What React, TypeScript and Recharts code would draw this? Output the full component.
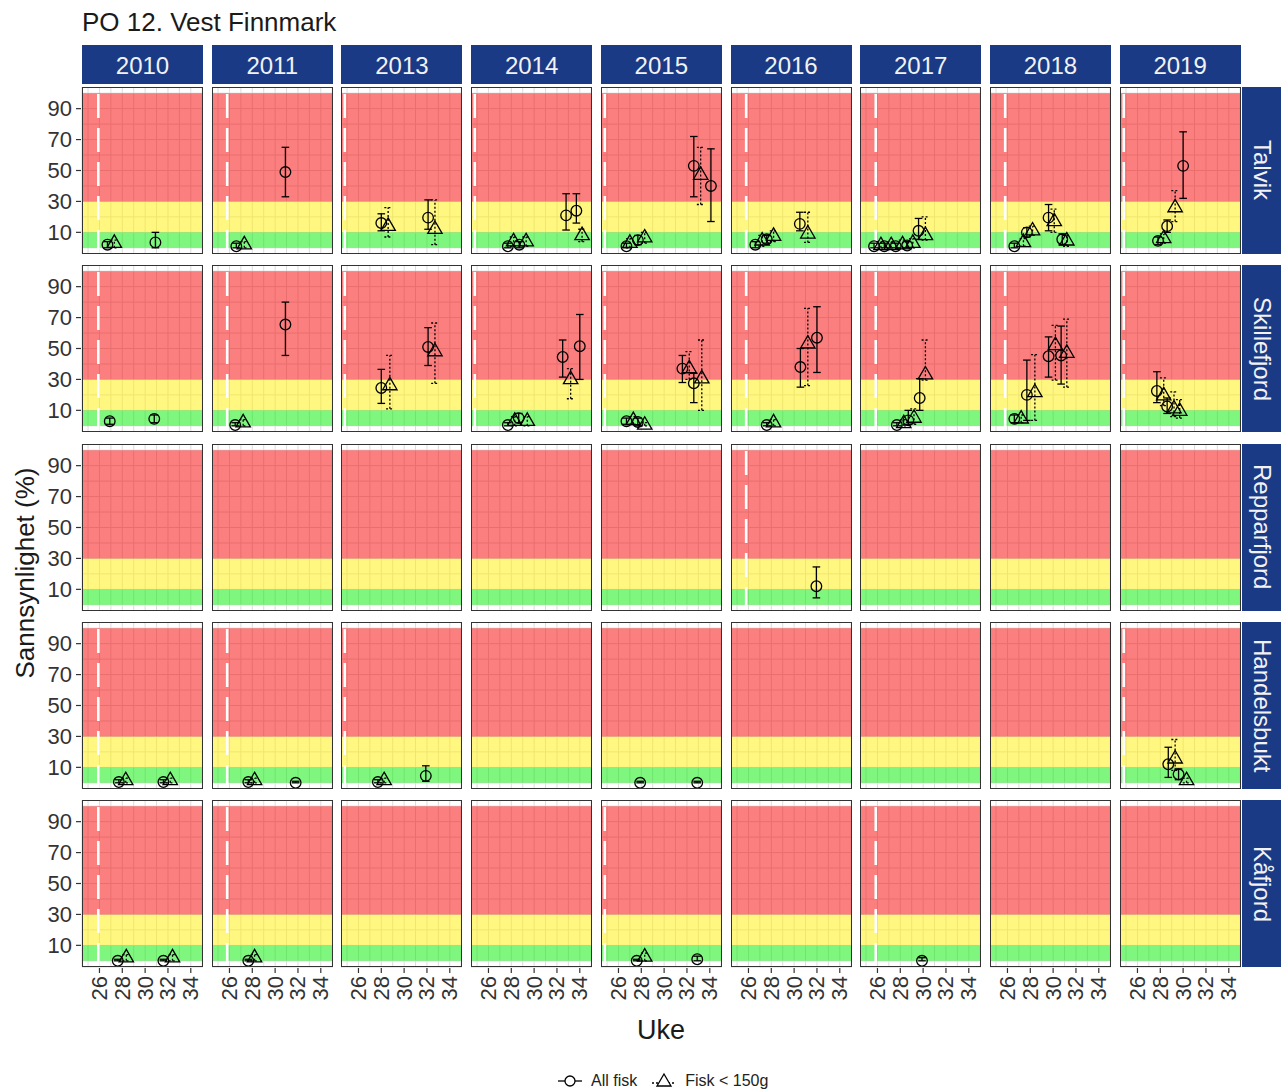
import React from "react";
import {
  ScatterChart,
  Scatter,
  XAxis,
  YAxis,
  CartesianGrid,
  ReferenceArea,
  ReferenceLine,
  ErrorBar,
} from "recharts";

const title = "PO 12. Vest Finnmark";
const years = ["2010", "2011", "2013", "2014", "2015", "2016", "2017", "2018", "2019"];
const sites = ["Talvik", "Skillefjord", "Repparfjord", "Handelsbukt", "Kåfjord"];

const weekGrid = [25, 26, 27, 28, 29, 30, 31, 32, 33, 34, 35];
const weekLabels = [26, 28, 30, 32, 34];
const probGrid = [0, 10, 20, 30, 40, 50, 60, 70, 80, 90, 100];
const probLabels = [10, 30, 50, 70, 90];

const bands = [
  { from: 0, to: 10, color: "#00f000" },
  { from: 10, to: 30, color: "#fff000" },
  { from: 30, to: 100, color: "#f80000" },
];

// week of the dashed white line, per year
const releaseWeek: Record<string, number> = {
  "2010": 25.9, "2011": 25.8, "2013": 24.8, "2014": 24.8, "2015": 24.8,
  "2016": 25.8, "2017": 25.85, "2018": 25.8, "2019": 24.8,
};
const releaseShown: Record<string, string[]> = {
  Talvik: years,
  Skillefjord: years,
  Repparfjord: ["2016"],
  Handelsbukt: ["2010", "2011", "2013", "2019"],
  "Kåfjord": ["2010", "2011", "2015", "2017"],
};

// [week, value, lower, upper]
type Pt = [number, number, number, number];

const talvikAll: Record<string, Pt[]> = {
  "2010": [[26.7, 2, 0, 4], [30.9, 3.5, 0, 10]],
  "2011": [[26.6, 1, 0, 3], [30.9, 49, 33, 65]],
  "2013": [[28.0, 16, 11, 22], [32.1, 19.5, 12, 31]],
  "2014": [[27.7, 1, 0, 3], [28.7, 2, 0, 4], [32.8, 21, 11.5, 35], [33.7, 24, 16, 35]],
  "2015": [[26.7, 1, 0, 3], [27.7, 5, 2, 8], [32.6, 53, 33, 72], [34.1, 40, 17, 64]],
  "2016": [[26.6, 2, 0, 4], [27.6, 5.5, 3, 8], [30.5, 15.5, 11, 23]],
  "2017": [[25.7, 1, 0, 3], [26.6, 1, 0, 3], [27.6, 1, 0, 3], [28.6, 1.5, 0, 4], [29.6, 11, 5.5, 19]],
  "2018": [[26.6, 1, 0, 3], [27.7, 10, 7, 13], [29.6, 19.5, 11, 28], [30.8, 5.5, 2, 9]],
  "2019": [[27.8, 4.5, 2, 7], [28.6, 14, 10, 18], [30.0, 53, 32, 75]],
};
const talvikSmall: Record<string, Pt[]> = {
  "2010": [[27.3, 3, 0, 5]],
  "2011": [[27.3, 2, 0, 4]],
  "2013": [[28.6, 14, 7, 26], [32.7, 12, 2, 31]],
  "2014": [[28.2, 4, 1, 7], [29.3, 4, 1, 7], [34.2, 8, 4, 12]],
  "2015": [[27.0, 3, 0, 6], [28.3, 6.5, 3, 10], [33.2, 47, 28, 65]],
  "2016": [[27.2, 4.5, 1, 8], [28.2, 7.5, 4, 11], [31.2, 9, 3.5, 23]],
  "2017": [[26.3, 1.5, 0, 4], [27.2, 1.5, 0, 4], [28.2, 2, 0, 5], [29.1, 3, 0, 6], [30.2, 8, 5, 20]],
  "2018": [[27.4, 3.5, 1, 6], [28.2, 11, 8, 14], [30.1, 17, 10, 25], [31.2, 4.5, 1, 8]],
  "2019": [[28.3, 6, 3, 9], [29.3, 26, 17, 37]],
};

const skillefjordAll: Record<string, Pt[]> = {
  "2010": [[26.9, 3, 1, 5], [30.8, 4.5, 2, 7]],
  "2011": [[26.5, 0.5, 0, 2], [30.9, 65.5, 45.5, 80]],
  "2013": [[28.0, 24.5, 14.5, 36.5], [32.1, 51, 39, 63.5]],
  "2014": [[27.7, 0.5, 0, 2], [28.65, 5, 2, 8], [32.5, 44.5, 31.5, 55.5], [34.0, 51.5, 30, 72]],
  "2015": [[26.7, 3, 1, 5], [27.7, 2.5, 0, 5], [31.6, 37, 28, 45.5], [32.6, 27.5, 15, 34]],
  "2016": [[27.6, 0.5, 0, 2], [30.55, 38, 25, 50], [32.0, 57, 34.5, 77]],
  "2017": [[27.7, 0.5, 0, 2], [28.7, 3.5, 1, 10], [29.7, 18, 10, 30.5]],
  "2018": [[26.6, 4.5, 2, 7], [27.7, 20, 3.5, 42.5], [29.6, 45, 31.5, 57.5], [30.7, 45.5, 27, 64.5]],
  "2019": [[27.7, 22.5, 15, 35], [28.6, 12.5, 8, 18]],
};
const skillefjordSmall: Record<string, Pt[]> = {
  "2011": [[27.2, 2, 0, 4]],
  "2013": [[28.75, 26, 11, 45.5], [32.7, 48, 27.5, 66.5]],
  "2014": [[28.3, 3, 0, 6], [29.4, 3, 0, 6], [33.2, 30, 17.5, 37]],
  "2015": [[27.3, 3.5, 1, 6], [28.3, 0.5, 0, 2], [32.2, 37, 30, 48], [33.3, 30.5, 10, 55.5]],
  "2016": [[28.2, 2, 0, 4], [31.2, 53, 26, 76]],
  "2017": [[28.3, 1.5, 0, 4], [29.2, 5, 1, 11], [30.2, 33, 29.5, 55.5]],
  "2018": [[27.2, 4.5, 2, 7], [28.4, 21.5, 3.5, 46], [30.2, 52, 29.5, 65], [31.2, 47, 25, 69]],
  "2019": [[28.3, 19.5, 13, 31], [29.2, 11, 6, 22], [29.7, 9.5, 5, 17]],
};

const repparfjordAll: Record<string, Pt[]> = {
  "2016": [[31.95, 12, 4.5, 24.5]],
};
const repparfjordSmall: Record<string, Pt[]> = {};

const handelsbuktAll: Record<string, Pt[]> = {
  "2010": [[27.7, 0.5, 0, 2], [31.6, 0.5, 0, 2]],
  "2011": [[27.65, 0.5, 0, 2], [31.8, 0, 0, 1]],
  "2013": [[27.7, 0.5, 0, 2], [31.9, 4.5, 1, 11]],
  "2015": [[27.9, 0, 0, 1], [32.9, 0, 0, 1]],
  "2019": [[28.7, 12, 3.5, 23], [29.6, 5.5, 2, 9]],
};
const handelsbuktSmall: Record<string, Pt[]> = {
  "2010": [[28.3, 1.5, 0, 3], [32.2, 1.5, 0, 3]],
  "2011": [[28.2, 1.5, 0, 3]],
  "2013": [[28.25, 1.5, 0, 3]],
  "2019": [[29.3, 15.5, 8, 28], [30.3, 1.5, 0, 3]],
};

const kafjordAll: Record<string, Pt[]> = {
  "2010": [[27.6, 0, 0, 1], [31.6, 0, 0, 1]],
  "2011": [[27.65, 0, 0, 1]],
  "2015": [[27.6, 0, 0, 1], [32.9, 1, 0, 3]],
  "2017": [[29.9, 0, 0, 2]],
};
const kafjordSmall: Record<string, Pt[]> = {
  "2010": [[28.35, 2, 0, 4], [32.4, 2, 0, 4]],
  "2011": [[28.2, 2, 0, 4]],
  "2015": [[28.3, 2.5, 0, 5]],
};

const allFisk: Record<string, Record<string, Pt[]>> = {
  Talvik: talvikAll, Skillefjord: skillefjordAll, Repparfjord: repparfjordAll,
  Handelsbukt: handelsbuktAll, "Kåfjord": kafjordAll,
};
const smallFisk: Record<string, Record<string, Pt[]>> = {
  Talvik: talvikSmall, Skillefjord: skillefjordSmall, Repparfjord: repparfjordSmall,
  Handelsbukt: handelsbuktSmall, "Kåfjord": kafjordSmall,
};

const FONT = "'Liberation Sans', Arial, sans-serif";
const NAVY = "#1b3a86";
const W = 121;
const H = 167;
const YW = 52;
const XH = 56;
const xDomain: [number, number] = [24.47, 35.07];
const yDomain: [number, number] = [-4, 104];
const colLeft = (i: number) => 82 + i * 129.7;
const rowTop = (j: number) => 87 + j * 178.3;

const toRows = (pts: Pt[] | undefined) =>
  (pts || []).map(([x, y, lo, hi]) => ({ x, y, err: [y - lo, hi - y] }));

const CircleShape = (p: any) => (
  <circle cx={p.cx} cy={p.cy} r={5.3} fill="none" stroke="#000" strokeWidth={1.3} />
);

const TriangleShape = (p: any) => {
  const r = 8.3;
  const hw = 7.2;
  return (
    <polygon
      points={`${p.cx},${p.cy - r} ${p.cx + hw},${p.cy + r / 2} ${p.cx - hw},${p.cy + r / 2}`}
      fill="none"
      stroke="#000"
      strokeWidth={1.3}
    />
  );
};

const XTick = (props: any) => {
  const { x, y, payload } = props;
  if (!weekLabels.includes(payload.value)) return <g />;
  return (
    <g>
      <line x1={x} x2={x} y1={y - 8} y2={y - 3} stroke="#333" strokeWidth={1.2} />
      <text
        x={x}
        y={y}
        transform={`rotate(-90 ${x} ${y})`}
        textAnchor="end"
        dominantBaseline="central"
        fontSize={22}
        fontFamily={FONT}
        fill="#333"
      >
        {payload.value}
      </text>
    </g>
  );
};

const YTick = (props: any) => {
  const { x, y, payload } = props;
  if (!probLabels.includes(payload.value)) return <g />;
  return (
    <g>
      <line x1={x + 3} x2={x + 8} y1={y} y2={y} stroke="#333" strokeWidth={1.2} />
      <text
        x={x - 1}
        y={y}
        textAnchor="end"
        dominantBaseline="central"
        fontSize={22}
        fontFamily={FONT}
        fill="#333"
      >
        {payload.value}
      </text>
    </g>
  );
};

function Panel({ site, year, col, row }: { site: string; year: string; col: number; row: number }) {
  const showY = col === 0;
  const showX = row === sites.length - 1;
  const all = toRows(allFisk[site][year]);
  const small = toRows(smallFisk[site][year]);
  const dash = releaseShown[site].includes(year) ? releaseWeek[year] : null;
  const w = W + (showY ? YW : 0);
  const h = H + (showX ? XH : 0);
  return (
    <div style={{ position: "absolute", left: colLeft(col) - (showY ? YW : 0), top: rowTop(row) }}>
      <ScatterChart width={w} height={h} margin={{ top: 0, right: 0, bottom: 0, left: 0 }}>
        <CartesianGrid stroke="#dcdcdc" strokeWidth={1} />
        <XAxis
          type="number"
          dataKey="x"
          domain={xDomain}
          ticks={weekGrid}
          interval={0}
          allowDataOverflow
          hide={!showX}
          height={XH}
          axisLine={false}
          tickLine={false}
          tickSize={5}
          tickMargin={4}
          tick={<XTick />}
        />
        <YAxis
          type="number"
          dataKey="y"
          domain={yDomain}
          ticks={probGrid}
          interval={0}
          allowDataOverflow
          hide={!showY}
          width={YW}
          axisLine={false}
          tickLine={false}
          tickSize={5}
          tickMargin={4}
          tick={<YTick />}
        />
        {bands.map((b) => (
          <ReferenceArea
            key={b.from}
            y1={b.from}
            y2={b.to}
            fill={b.color}
            fillOpacity={0.5}
            stroke="none"
          />
        ))}
        {dash !== null && (
          <ReferenceLine x={dash} stroke="#ffffff" strokeWidth={2.6} strokeDasharray="24 10" />
        )}
        <Scatter data={all} dataKey="y" shape={CircleShape} isAnimationActive={false}>
          <ErrorBar
            dataKey="err"
            direction="y"
            width={3.8}
            stroke="#000"
            strokeWidth={1.3}
            isAnimationActive={false}
          />
        </Scatter>
        <Scatter data={small} dataKey="y" shape={TriangleShape} isAnimationActive={false}>
          <ErrorBar
            dataKey="err"
            direction="y"
            width={3.8}
            stroke="#000"
            strokeWidth={1.3}
            strokeDasharray="2 2"
            isAnimationActive={false}
          />
        </Scatter>
      </ScatterChart>
      <div
        style={{
          position: "absolute",
          left: showY ? YW : 0,
          top: 0,
          width: W,
          height: H,
          border: "1.5px solid #333",
          boxSizing: "border-box",
          pointerEvents: "none",
        }}
      />
    </div>
  );
}

function Legend() {
  return (
    <div
      style={{
        position: "absolute",
        top: 1071,
        left: 555,
        display: "flex",
        alignItems: "center",
        fontFamily: FONT,
        fontSize: 16,
        color: "#222",
      }}
    >
      <svg width={30} height={20}>
        <line x1={3} x2={27} y1={10} y2={10} stroke="#000" strokeWidth={1.3} />
        <circle cx={15} cy={10} r={5} fill="#fff" stroke="#000" strokeWidth={1.3} />
      </svg>
      <span style={{ marginLeft: 6, marginRight: 12 }}>All fisk</span>
      <svg width={30} height={20}>
        <line x1={3} x2={27} y1={12} y2={12} stroke="#000" strokeWidth={1.3} strokeDasharray="2 2" />
        <polygon points="15,3 22,15 8,15" fill="#fff" stroke="#000" strokeWidth={1.3} />
      </svg>
      <span style={{ marginLeft: 6 }}>Fisk &lt; 150g</span>
    </div>
  );
}

export default function App() {
  return (
    <div
      style={{
        position: "absolute",
        left: 0,
        top: 0,
        width: 1281,
        height: 1092,
        background: "#fff",
        fontFamily: FONT,
      }}
    >
      <div style={{ position: "absolute", left: 82, top: 7, fontSize: 26, color: "#1a1a1a" }}>{title}</div>
      {years.map((yr, i) => (
        <div
          key={yr}
          style={{
            position: "absolute",
            left: colLeft(i),
            top: 45,
            width: W,
            height: 39,
            background: NAVY,
            color: "#f2f2f2",
            fontSize: 24,
            display: "flex",
            alignItems: "center",
            justifyContent: "center",
            paddingTop: 3,
            boxSizing: "border-box",
          }}
        >
          {yr}
        </div>
      ))}
      {sites.map((s, j) => (
        <div
          key={s}
          style={{
            position: "absolute",
            left: 1242,
            top: rowTop(j),
            width: 39,
            height: H,
            background: NAVY,
            color: "#f2f2f2",
            fontSize: 24,
            display: "flex",
            alignItems: "center",
            justifyContent: "center",
          }}
        >
          <span style={{ writingMode: "vertical-rl" }}>{s}</span>
        </div>
      ))}
      {sites.map((s, j) =>
        years.map((yr, i) => <Panel key={s + yr} site={s} year={yr} col={i} row={j} />)
      )}
      <div
        style={{
          position: "absolute",
          left: 25,
          top: 573,
          transform: "translate(-50%, -50%) rotate(-90deg)",
          fontSize: 26,
          color: "#1a1a1a",
          whiteSpace: "nowrap",
        }}
      >
        Sannsynlighet (%)
      </div>
      <div
        style={{
          position: "absolute",
          left: 661,
          top: 1030,
          transform: "translate(-50%, -50%)",
          fontSize: 27,
          color: "#1a1a1a",
        }}
      >
        Uke
      </div>
      <Legend />
    </div>
  );
}
